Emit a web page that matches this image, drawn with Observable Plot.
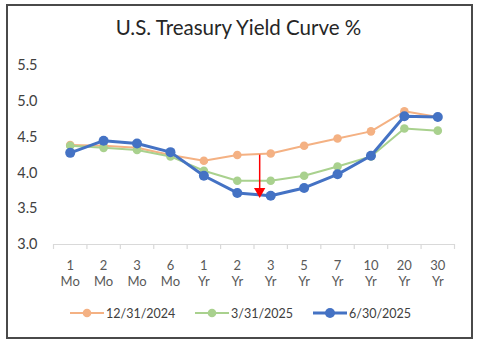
<!DOCTYPE html>
<html>
<head>
<meta charset="utf-8">
<script src="https://cdn.jsdelivr.net/npm/d3@7"></script>
<script src="https://cdn.jsdelivr.net/npm/@observablehq/plot@0.6"></script>
<style>
  html, body { margin: 0; padding: 0; background: #fff; }
  body { width: 477px; height: 344px; position: relative; overflow: hidden; font-family: Lato, "Open Sans", sans-serif; }
  #frame { position: absolute; left: 6px; top: 4px; width: 463px; height: 331px; border: 2px solid #4a4a4a; box-sizing: content-box; }
  #title { position: absolute; left: 0; width: 477px; top: 15px; text-align: center; font-size: 20.5px; color: #262626; }
  #chart { position: absolute; left: 0; top: 50px; }
  #legend { position: absolute; left: 0; top: 304px; width: 477px; height: 20px; }
  .item { position: absolute; top: 0; display: flex; align-items: center; height: 18px; font-size: 12.5px; color: #404040; }
  .item svg { margin-right: 2px; }
</style>
</head>
<body>
<div id="frame"></div>
<div id="title">U.S. Treasury Yield Curve %</div>
<div id="chart"></div>
<div id="legend"></div>
<script>
const categories = ["1 Mo","2 Mo","3 Mo","6 Mo","1 Yr","2 Yr","3 Yr","5 Yr","7 Yr","10 Yr","20 Yr","30 Yr"];
const seriesNames = ["12/31/2024","3/31/2025","6/30/2025"];
const yields2024Dec = [4.39,4.38,4.35,4.25,4.17,4.25,4.27,4.38,4.48,4.58,4.86,4.78];
const yields2025Mar = [4.38,4.35,4.32,4.23,4.03,3.89,3.89,3.96,4.09,4.23,4.62,4.59];
const yields2025Jun = [4.28,4.45,4.41,4.29,3.96,3.72,3.68,3.79,3.98,4.24,4.79,4.78];
const yTicks = [3.0,3.5,4.0,4.5,5.0,5.5];
const arrowData = [{x: 5.67, y1: 4.255, y2: 3.735, tipY: 3.70}];

const colors = ["#F4B183", "#A9D18E", "#4472C4"];
const widths = [2, 2, 3];
const radii = [4.3, 4.3, 5];
const allSeries = [yields2024Dec, yields2025Mar, yields2025Jun];

const rows = [];
allSeries.forEach((vals, s) => vals.forEach((v, i) => rows.push({series: seriesNames[s], i, v})));

const marks = [];
allSeries.forEach((vals, s) => {
  const d = rows.filter(r => r.series === seriesNames[s]);
  marks.push(Plot.line(d, {x: "i", y: "v", stroke: colors[s], strokeWidth: widths[s]}));
  marks.push(Plot.dot(d, {x: "i", y: "v", fill: colors[s], r: radii[s]}));
});

const tickPos = d3.range(13).map(k => k - 0.5);

const plot = Plot.plot({
  width: 477,
  height: 245,
  marginLeft: 53,
  marginRight: 23,
  marginTop: 15,
  marginBottom: 51,
  style: {fontFamily: "Lato, 'Open Sans', sans-serif", background: "transparent"},
  x: {type: "linear", domain: [-0.5, 11.5], axis: null},
  y: {type: "linear", domain: [3.0, 5.5], axis: null},
  marks: [
    Plot.ruleY([3.0], {stroke: "#d9d9d9", strokeWidth: 1.2}),
    Plot.ruleX(tickPos, {x: d => d, y1: 3.0, y2: 3.0, insetBottom: -5, stroke: "#d9d9d9", strokeWidth: 1.2}),
    Plot.text(yTicks, {x: -0.5, y: d => d, text: d => d.toFixed(1), textAnchor: "end", dx: -16, fontSize: 14.5, fill: "#404040"}),
    Plot.text(categories, {x: (d, i) => i, y: 3.0, text: d => d.replace(" ", "\n"), lineAnchor: "top", dy: 14, fontSize: 13, lineHeight: 1.25, fill: "#595959"}),
    ...marks,
    Plot.link(arrowData, {x1: "x", x2: "x", y1: "y1", y2: "y2", stroke: "#FF0000", strokeWidth: 1.5}),
    Plot.dot(arrowData, {x: "x", y: "tipY", symbol: "triangle", rotate: 180, fill: "#FF0000", r: 4.2, dy: -3})
  ]
});
document.getElementById("chart").appendChild(plot);

// legend
const legendPos = [70, 195, 313];
const legend = document.getElementById("legend");
seriesNames.forEach((name, s) => {
  const item = document.createElement("div");
  item.className = "item";
  item.style.left = legendPos[s] + "px";
  const w = 34;
  item.innerHTML = `<svg width="${w}" height="18"><line x1="0" y1="9" x2="${w}" y2="9" stroke="${colors[s]}" stroke-width="${widths[s]}"/><circle cx="${w/2}" cy="9" r="${radii[s]}" fill="${colors[s]}"/></svg><span>${name}</span>`;
  legend.appendChild(item);
});
</script>
</body>
</html>
